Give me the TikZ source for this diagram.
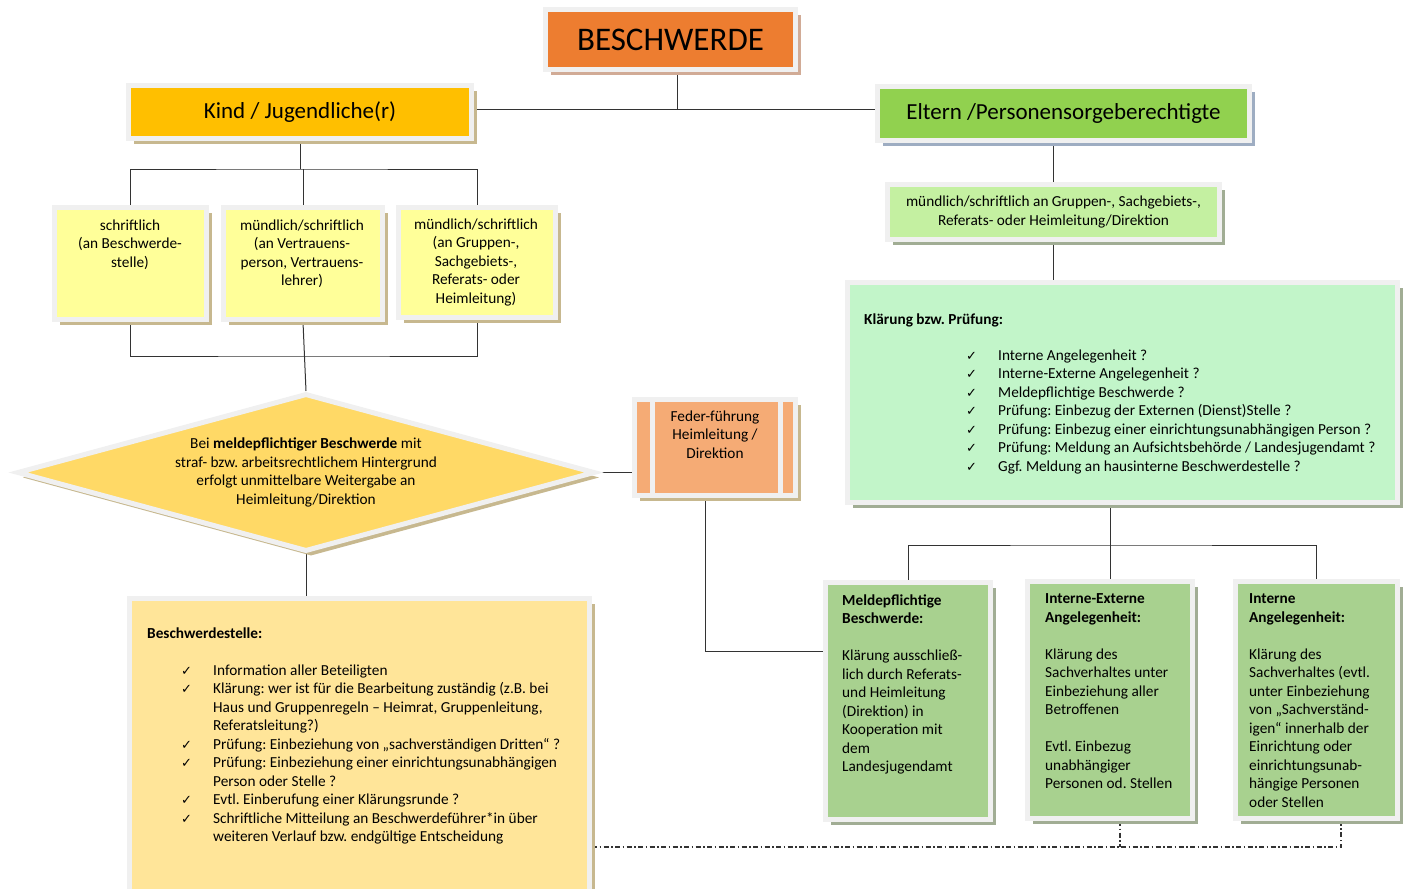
\documentclass[tikz,border=0pt]{standalone}
\usepackage{fontspec}
\setmainfont{Carlito}
\newfontfamily\symfont{DejaVu Sans}
\usetikzlibrary{shapes.geometric,shadows,backgrounds,positioning}
\definecolor{orangebox}{rgb}{0.93,0.49,0.19}
\definecolor{goldbox}{rgb}{1,0.75,0}
\definecolor{greenbox}{rgb}{0.57,0.82,0.31}
\definecolor{paleyellow}{rgb}{1,1,0.6}
\definecolor{diamondfill}{rgb}{1,0.85,0.4}
\definecolor{salmon}{rgb}{0.96,0.67,0.46}
\definecolor{lightgreen}{rgb}{0.77,0.94,0.63}
\definecolor{mint}{rgb}{0.76,0.96,0.79}
\definecolor{cream}{rgb}{1,0.9,0.6}
\definecolor{sage}{rgb}{0.66,0.82,0.56}
\definecolor{frame}{rgb}{0.94,0.94,0.94}
\definecolor{tanshadow}{rgb}{0.78,0.72,0.56}
\definecolor{brownshadow}{rgb}{0.82,0.67,0.59}
\definecolor{blueshadow}{rgb}{0.62,0.68,0.76}
\definecolor{oliveshadow}{rgb}{0.63,0.68,0.58}
\definecolor{linegray}{rgb}{0.2,0.2,0.2}
\newcommand{\chk}{\makebox[32pt][l]{\symfont\fontsize{13}{13}\selectfont ✓}}
\newcommand{\ind}{\hspace*{32pt}}
\frenchspacing

\begin{document}
\begin{tikzpicture}[x=1pt, y=-1pt, line/.style = {draw=linegray, line width=1pt}, dashdot/.style = {draw=linegray, line width=1.2pt, dash pattern=on 5pt off 2.5pt on 1.5pt off 2.5pt}, box/.style = {draw=frame, line width=5pt, inner sep=0pt, align=center, drop shadow={shadow xshift=5pt, shadow yshift=-5pt, opacity=1, fill=#1}}, box/.default=tanshadow, txt/.style = {inner sep=0pt, align=left, font=\fontsize{15.3}{18.5}\selectfont}, ctxt/.style = {txt, align=center}, head/.style = {font=\fontsize{23}{26}\selectfont}]
	\useasboundingbox (0,0) rectangle (1406,889);
	% top row
	\node[box=brownshadow, fill=orangebox, minimum width=250pt, minimum height=60pt, font=\fontsize{33}{36}\selectfont] (besch) at (670.5,39.5) {BESCHWERDE};
	\node[box, fill=goldbox, minimum width=343pt, minimum height=53pt, head] (kind) at (300,112) {Kind / Jugendliche(r)};
	\node[box=blueshadow, fill=greenbox, minimum width=372pt, minimum height=54pt, head] (eltern) at (1063.5,113.5) {Eltern /Personensorgeberechtigte};
	% Kind / Jugendliche(r)
	\node[box, fill=paleyellow, minimum width=152pt, minimum height=112pt] (schr) at (130.5,263.5) {};
	\node[box, fill=paleyellow, minimum width=159pt, minimum height=112pt] (vertr) at (303,263.5) {};
	\node[box, fill=paleyellow, minimum width=157pt, minimum height=110pt] (grupp) at (477,262.5) {};
	\node[ctxt, anchor=north] (schrtxt) at (130,219.5) {schriftlich\\(an Beschwerde-\\stelle)};
	\node[ctxt, anchor=north] (vertrtxt) at (302,219.5) {mündlich/schriftlich\\(an Vertrauens-\\person, Vertrauens-\\lehrer)};
	\node[ctxt, anchor=north] (grupptxt) at (476,218.5) {mündlich/schriftlich\\(an Gruppen-,\\Sachgebiets-,\\Referats- oder\\Heimleitung)};
	\node[box, fill=diamondfill, shape=diamond, shape aspect=3.6, minimum width=578pt, minimum height=158pt, txt, align=center] (meldung) at (306,472.5) {Bei \textbf{meldepflichtiger Beschwerde} mit\\straf- bzw. arbeitsrechtlichem Hintergrund\\erfolgt unmittelbare Weitergabe an\\Heimleitung/Direktion};
	\node[box, fill=salmon, minimum width=161pt, minimum height=96pt] (feder) at (715,447.5) {};
	\draw[draw=frame, line width=5pt] ([xshift=20pt]feder.north west) -- ([xshift=20pt]feder.south west);
	\draw[draw=frame, line width=5pt] ([xshift=-18pt]feder.north east) -- ([xshift=-18pt]feder.south east);
	\node[ctxt, anchor=north] (federtxt) at (715,410.5) {Feder-führung\\Heimleitung /\\Direktion};
	\node[box, fill=cream, minimum width=460pt, minimum height=300pt] (stelle) at (359.5,748.5) {};
	\node[txt, anchor=north west, font=\fontsize{15.3}{18.5}\selectfont\bfseries] (stelletit) at (147,627.5) {Beschwerdestelle:};
	\node[txt, anchor=north west] (stellelist) at (181,664.5) {\chk Information aller Beteiligten\\
		\chk Klärung: wer ist für die Bearbeitung zuständig (z.B. bei\\
		\ind Haus und Gruppenregeln -- Heimrat, Gruppenleitung,\\
		\ind Referatsleitung?)\\
		\chk Prüfung: Einbeziehung von „sachverständigen Dritten“ ?\\
		\chk Prüfung: Einbeziehung einer einrichtungsunabhängigen\\
		\ind Person oder Stelle ?\\
		\chk Evtl. Einberufung einer Klärungsrunde ?\\
		\chk Schriftliche Mitteilung an Beschwerdeführer*in über\\
		\ind weiteren Verlauf bzw. endgültige Entscheidung};
	% Eltern /Personensorgeberechtigte
	\node[box=oliveshadow, fill=lightgreen, minimum width=332pt, minimum height=55pt, ctxt] (gruppe) at (1053.5,212) {mündlich/schriftlich an Gruppen-, Sachgebiets-,\\Referats- oder Heimleitung/Direktion};
	\node[box=oliveshadow, fill=mint, minimum width=550pt, minimum height=220pt] (pruef) at (1122.5,392.5) {};
	\node[txt, anchor=north west, font=\fontsize{15.3}{18.5}\selectfont\bfseries] (prueftit) at (864,313.5) {Klärung bzw. Prüfung:};
	\node[txt, anchor=north west] (pruefliste) at (966,349.5) {\chk Interne Angelegenheit ?\\
		\chk Interne-Externe Angelegenheit ?\\
		\chk Meldepflichtige Beschwerde ?\\
		\chk Prüfung: Einbezug der Externen (Dienst)Stelle ?\\
		\chk Prüfung: Einbezug einer einrichtungsunabhängigen Person ?\\
		\chk Prüfung: Meldung an Aufsichtsbehörde / Landesjugendamt ?\\
		\chk Ggf. Meldung an hausinterne Beschwerdestelle ?};
	\node[box=oliveshadow, fill=sage, minimum width=165pt, minimum height=237pt] (meld) at (908,701) {};
	\node[box=oliveshadow, fill=sage, minimum width=165pt, minimum height=237pt] (intext) at (1110,700) {};
	\node[box=oliveshadow, fill=sage, minimum width=162pt, minimum height=237pt] (intern) at (1316.5,700) {};
	\node[txt, anchor=north west] (meldtxt) at (842,594.5) {\textbf{Meldepflichtige}\\\textbf{Beschwerde:}\\[18.5pt]Klärung ausschließ-\\lich durch Referats-\\und Heimleitung\\(Direktion) in\\Kooperation mit\\dem\\Landesjugendamt};
	\node[txt, anchor=north west] (intexttxt) at (1045,593.5) {\textbf{Interne-Externe}\\\textbf{Angelegenheit:}\\[18.5pt]Klärung des\\Sachverhaltes unter\\Einbeziehung aller\\Betroffenen\\[18.5pt]Evtl. Einbezug\\unabhängiger\\Personen od. Stellen};
	\node[txt, anchor=north west] (interntxt) at (1249,593.5) {\textbf{Interne}\\\textbf{Angelegenheit:}\\[18.5pt]Klärung des\\Sachverhaltes (evtl.\\unter Einbeziehung\\von „Sachverständ-\\igen“ innerhalb der\\Einrichtung oder\\einrichtungsunab-\\hängige Personen\\oder Stellen};
	% connectors
	\coordinate (tfork) at (677,109);
	\coordinate (kfork) at (300,169);
	\coordinate (sfork) at (304,356);
	\coordinate (fbend) at (705,651);
	\coordinate (pfork) at (1110,545);
	\coordinate (dfork) at (1341,847);
	\begin{scope}[on background layer]
		\draw[line] (besch.south -| tfork) -- (tfork);
		\draw[line] (kind.east |- tfork) -- (eltern.west |- tfork);
		\draw[line] (kind.south) -- (kfork);
		\draw[line] (schr.north) |- (kfork) -| (grupp.north);
		\draw[line] (vertr.north) -- (vertr.north |- kfork);
		\draw[line] (schr.south) |- (sfork) -| (grupp.south);
		\draw[line] (vertr.south) -- (meldung.north);
		\draw[line] (meldung.south) -- (meldung.south |- stelle.north);
		\draw[line] (meldung.east) -- (meldung.east -| feder.west);
		\draw[line] (feder.south -| fbend) -- (fbend) -- (fbend -| meld.west);
		\draw[line] (gruppe.north) -- (gruppe.north |- eltern.south);
		\draw[line] (gruppe.south) -- (gruppe.south |- pruef.north);
		\draw[line] (pruef.south -| pfork) -- (pfork);
		\draw[line] (meld.north) |- (pfork) -| (intern.north);
		\draw[line] (intext.north) -- (intext.north |- pfork);
		\draw[dashdot] (stelle.east |- dfork) -- (dfork) -- (dfork |- intern.south);
		\draw[dashdot] ([xshift=10pt]intext.south) -- ([xshift=10pt]intext.south |- dfork);
	\end{scope}
\end{tikzpicture}
\end{document}
